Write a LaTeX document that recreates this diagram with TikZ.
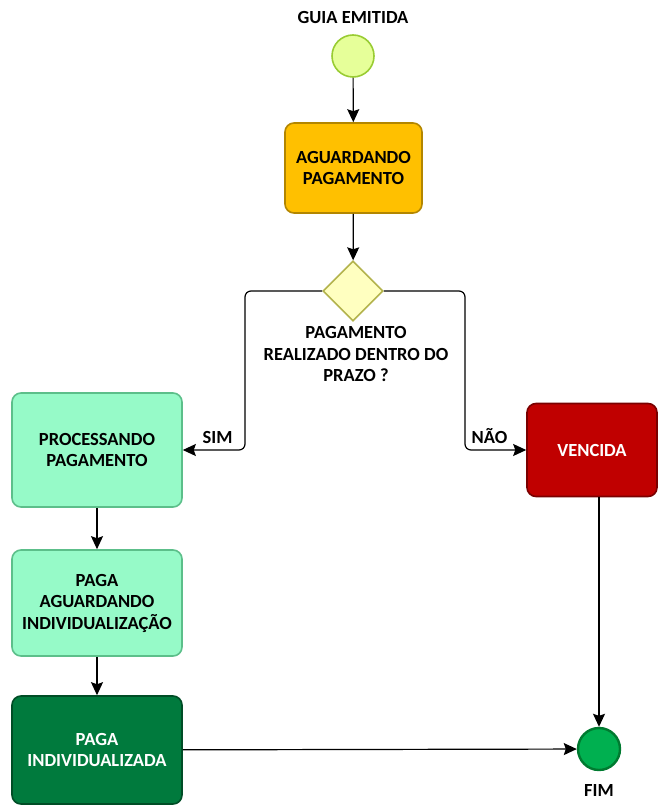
\documentclass[tikz,border=0pt]{standalone}
\usepackage{fontspec}
\setmainfont{Carlito}
\usetikzlibrary{arrows.meta,positioning,shapes.geometric}
\definecolor{startfill}{HTML}{E6FF99}
\definecolor{startline}{HTML}{99CC33}
\definecolor{waitfill}{HTML}{FFC000}
\definecolor{waitline}{HTML}{B38600}
\definecolor{gatefill}{HTML}{FFFFC0}
\definecolor{gateline}{HTML}{B3B34D}
\definecolor{mintfill}{HTML}{96FAC8}
\definecolor{mintline}{HTML}{5CBF8A}
\definecolor{darkfill}{HTML}{007A3D}
\definecolor{darkline}{HTML}{004D26}
\definecolor{redfill}{HTML}{C00000}
\definecolor{redline}{HTML}{7A0000}
\definecolor{endfill}{HTML}{00B050}
\definecolor{endline}{HTML}{007A30}
\begin{document}
\begin{tikzpicture}[x=1pt,y=-1pt,
  font=\fontsize{18.5}{21.5}\selectfont\bfseries,
  task/.style={rectangle,rounded corners=9pt,line width=1.6pt,align=center,inner sep=2pt},
  event/.style={circle,minimum size=42pt,inner sep=0pt,line width=1.6pt},
  flow/.style={-{Stealth[length=13pt,width=12pt,inset=2pt]},line width=1.2pt},
  lbl/.style={align=center,inner sep=0pt}]
\useasboundingbox (0,0) rectangle (658,805);
% eventos e tarefas
\node[event,draw=startline,fill=startfill] (inicio) at (353,56) {};
\node[lbl] (inicioTxt) at (353,18) {GUIA EMITIDA};
\node[task,draw=waitline,fill=waitfill,minimum width=137pt,minimum height=90pt] (aguardando) at (353.5,168) {AGUARDANDO\\PAGAMENTO};
\node[diamond,draw=gateline,fill=gatefill,line width=1.6pt,minimum width=60pt,minimum height=60pt,inner sep=0pt] (prazo) at (353,291) {};
\node[lbl] (prazoTxt) at (356,354) {PAGAMENTO\\REALIZADO DENTRO DO\\PRAZO ?};
\node[task,draw=mintline,fill=mintfill,minimum width=170pt,minimum height=114pt] (processando) at (97,450) {PROCESSANDO\\PAGAMENTO};
\node[task,draw=mintline,fill=mintfill,minimum width=170pt,minimum height=106pt] (pagaAguard) at (97,603) {PAGA\\AGUARDANDO\\INDIVIDUALIZAÇÃO};
\node[task,draw=darkline,fill=darkfill,text=white,minimum width=170pt,minimum height=108pt] (pagaIndiv) at (97,750) {PAGA\\INDIVIDUALIZADA};
\node[task,draw=redline,fill=redfill,text=white,minimum width=130pt,minimum height=93pt] (vencida) at (592,450) {VENCIDA};
\node[event,draw=endline,fill=endfill,line width=2.4pt] (fim) at (599,749) {};
\node[lbl] (fimTxt) at (599,790) {FIM};
% fluxos
\draw[flow] (inicio) -- (aguardando);
\draw[flow] (aguardando) -- (prazo);
\draw[flow,rounded corners=6pt] (prazo.west) -| (245,450) -- node[pos=0.44,above=6pt,lbl] {SIM} (processando.east);
\draw[flow,rounded corners=6pt] (prazo.east) -| (465,450) -- node[pos=0.4,above=6pt,lbl] {NÃO} (vencida.west);
\draw[flow] (processando) -- (pagaAguard);
\draw[flow] (pagaAguard) -- (pagaIndiv);
\draw[flow] (vencida.south -| fim) -- (fim);
\draw[flow] (pagaIndiv) -- (fim);
\end{tikzpicture}
\end{document}
